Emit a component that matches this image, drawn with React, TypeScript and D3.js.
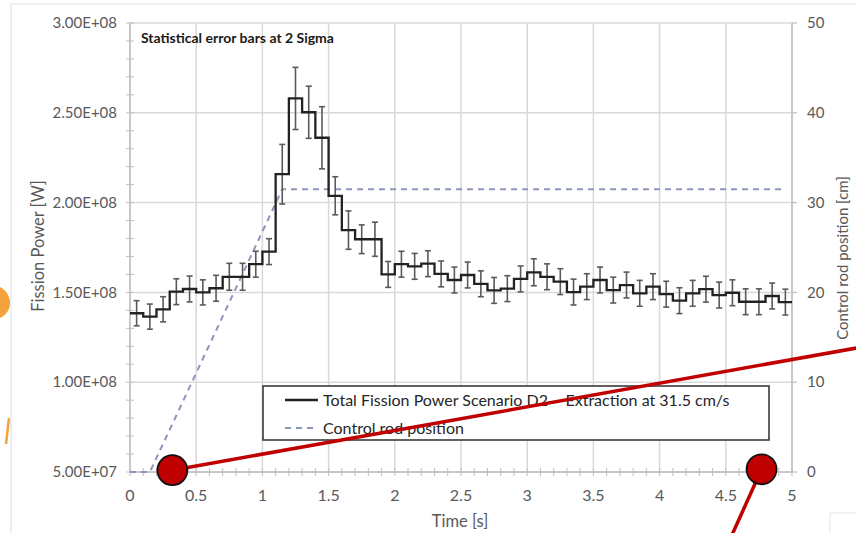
import React from 'react';
import * as d3 from 'd3';

// bin start times [s]
const binTime = [
  0, 0.1, 0.2, 0.3, 0.4, 0.5, 0.6, 0.7, 0.8, 0.9,
  1.0, 1.1, 1.2, 1.3, 1.4, 1.5, 1.6, 1.7, 1.8, 1.9,
  2.0, 2.1, 2.2, 2.3, 2.4, 2.5, 2.6, 2.7, 2.8, 2.9,
  3.0, 3.1, 3.2, 3.3, 3.4, 3.5, 3.6, 3.7, 3.8, 3.9,
  4.0, 4.1, 4.2, 4.3, 4.4, 4.5, 4.6, 4.7, 4.8, 4.9,
];
const binWidth = 0.1;

// total fission power [1e8 W]
const power = [
  1.384, 1.365, 1.406, 1.504, 1.519, 1.5, 1.523, 1.587, 1.587, 1.657,
  1.727, 2.158, 2.58, 2.503, 2.361, 2.038, 1.847, 1.796, 1.796, 1.6,
  1.657, 1.645, 1.66, 1.603, 1.569, 1.597, 1.548, 1.511, 1.521, 1.575,
  1.612, 1.587, 1.56, 1.502, 1.532, 1.569, 1.513, 1.541, 1.495, 1.532,
  1.49, 1.454, 1.495, 1.518, 1.485, 1.498, 1.448, 1.448, 1.48, 1.446,
];

// 2 sigma statistical error [1e8 W]
const powerErr = [
  0.07, 0.07, 0.07, 0.072, 0.072, 0.07, 0.072, 0.075, 0.075, 0.072,
  0.072, 0.166, 0.173, 0.145, 0.173, 0.106, 0.107, 0.08, 0.095, 0.072,
  0.072, 0.072, 0.072, 0.072, 0.072, 0.072, 0.072, 0.072, 0.072, 0.072,
  0.075, 0.072, 0.072, 0.072, 0.072, 0.072, 0.072, 0.072, 0.072, 0.072,
  0.072, 0.072, 0.072, 0.072, 0.072, 0.072, 0.072, 0.072, 0.072, 0.072,
];

// control rod position [cm]
const rodTime = [0, 0.15, 1.15, 4.92];
const rodPos = [0, 0, 31.5, 31.5];

const leftTicks = [5e7, 1e8, 1.5e8, 2e8, 2.5e8, 3e8];
const leftTickLabels = ['5.00E+07', '1.00E+08', '1.50E+08', '2.00E+08', '2.50E+08', '3.00E+08'];
const rightTicks = [0, 10, 20, 30, 40, 50];
const xTicks = [0, 0.5, 1, 1.5, 2, 2.5, 3, 3.5, 4, 4.5, 5];
const xTickLabels = ['0', '0.5', '1', '1.5', '2', '2.5', '3', '3.5', '4', '4.5', '5'];

const W = 856;
const H = 533;
const FONT = "Lato, 'Open Sans', sans-serif";
const GRID = '#d9d9d9';
const AXIS = '#bfbfbf';
const LABEL = '#595959';
const RED = '#c00000';

export default function App() {
  const x = d3.scaleLinear().domain([0, 5]).range([130, 792]);
  const y = d3.scaleLinear().domain([5e7, 3e8]).range([472, 23]);
  const yR = d3.scaleLinear().domain([0, 50]).range([472, 23]);

  const stepPts: [number, number][] = binTime.map((t, i) => [t, power[i] * 1e8]);
  stepPts.push([binTime[binTime.length - 1] + binWidth, power[power.length - 1] * 1e8]);
  const stepLine = d3
    .line<[number, number]>()
    .x((d) => x(d[0]))
    .y((d) => y(d[1]))
    .curve(d3.curveStepAfter);

  const rodLine = d3
    .line<number>()
    .x((_, i) => x(rodTime[i]))
    .y((d) => yR(d));

  const minorY = d3.range(5e7, 3e8 + 1, 1e7);
  const minorX = d3.range(0, 51).map((k) => k / 10);

  // annotation anchors (in data coordinates)
  const dot1 = [x(0.32), yR(0.2)];
  const dot2 = [x(4.77), yR(0.3)];
  const lineEnd1 = [x(5.485), yR(13.8)];
  const lineEnd2 = [x(4.55), yR(-6.9)];

  return (
    <svg
      width={W}
      height={H}
      style={{ position: 'absolute', left: 0, top: 0, background: '#fff' }}
      fontFamily={FONT}
    >
      {/* slide decoration */}
      <path d="M0,287 C6,290 10,296 10,303 C10,310 6,315 0,318 Z" fill="#f4a23c" />
      <path d="M9,418 L6,444" stroke="#f4a23c" strokeWidth={2.5} fill="none" />
      <path d="M11,533 L11,4 L856,4" stroke="#e3e3e3" strokeWidth={1.2} fill="none" />
      <path d="M856,513 L830,513 L830,533" stroke="#e3e3e3" strokeWidth={1} fill="none" />

      {/* gridlines */}
      {leftTicks.map((v) => (
        <line key={'gy' + v} x1={130} x2={792} y1={y(v)} y2={y(v)} stroke={GRID} strokeWidth={1.5} />
      ))}
      {xTicks.map((v) => (
        <line key={'gx' + v} x1={x(v)} x2={x(v)} y1={23} y2={472} stroke={GRID} strokeWidth={1.5} />
      ))}

      {/* axes */}
      <line x1={130} x2={130} y1={23} y2={472} stroke={AXIS} strokeWidth={1.5} />
      <line x1={792} x2={792} y1={23} y2={472} stroke={AXIS} strokeWidth={1.5} />
      <line x1={130} x2={792} y1={472} y2={472} stroke={AXIS} strokeWidth={1.5} />
      {minorY.map((v) => (
        <line key={'my' + v} x1={126} x2={134} y1={y(v)} y2={y(v)} stroke={AXIS} strokeWidth={1} />
      ))}
      {minorX.map((v) => (
        <line key={'mx' + v} x1={x(v)} x2={x(v)} y1={468} y2={476} stroke={AXIS} strokeWidth={1} />
      ))}
      {rightTicks.map((v) => (
        <line key={'ry' + v} x1={792} x2={797} y1={yR(v)} y2={yR(v)} stroke={AXIS} strokeWidth={1.2} />
      ))}

      {/* tick labels */}
      {leftTicks.map((v, i) => (
        <text key={'ly' + v} x={117} y={y(v)} dy="0.35em" textAnchor="end" fontSize={15} fill={LABEL}>
          {leftTickLabels[i]}
        </text>
      ))}
      {rightTicks.map((v) => (
        <text key={'lr' + v} x={807} y={yR(v)} dy="0.35em" fontSize={15} fill={LABEL}>
          {v}
        </text>
      ))}
      {xTicks.map((v, i) => (
        <text key={'lx' + v} x={x(v)} y={495} dy="0.35em" textAnchor="middle" fontSize={16} fill={LABEL}>
          {xTickLabels[i]}
        </text>
      ))}

      {/* axis titles */}
      <text transform="translate(38,246) rotate(-90)" textAnchor="middle" dy="0.35em" fontSize={16.5} fill={LABEL}>
        Fission Power [W]
      </text>
      <text transform="translate(843,258) rotate(-90)" textAnchor="middle" dy="0.35em" fontSize={15} fill={LABEL}>
        Control rod position [cm]
      </text>
      <text x={460} y={521} dy="0.35em" textAnchor="middle" fontSize={16.5} fill={LABEL}>
        Time [s]
      </text>

      <text x={141} y={38} dy="0.35em" fontSize={14} fontWeight="bold" fill="#1a1a1a">
        Statistical error bars at 2 Sigma
      </text>

      {/* control rod position */}
      <path
        d={rodLine(rodPos) ?? ''}
        fill="none"
        stroke="#8c96bd"
        strokeWidth={2}
        strokeDasharray="6,5"
      />

      {/* error bars */}
      {binTime.map((t, i) => {
        const cx = x(t + binWidth / 2);
        const top = y((power[i] + powerErr[i]) * 1e8);
        const bot = y((power[i] - powerErr[i]) * 1e8);
        return (
          <g key={'e' + i} stroke="#5a5a5a" strokeWidth={1.6}>
            <line x1={cx} x2={cx} y1={top} y2={bot} />
            <line x1={cx - 3} x2={cx + 3} y1={top} y2={top} />
            <line x1={cx - 3} x2={cx + 3} y1={bot} y2={bot} />
          </g>
        );
      })}

      {/* fission power step line */}
      <path d={stepLine(stepPts) ?? ''} fill="none" stroke="#222" strokeWidth={2.3} />

      {/* legend */}
      <rect x={263} y={386} width={506} height={54} fill="#fff" stroke="#3a3a3a" strokeWidth={1.6} />
      <line x1={285} x2={318} y1={400} y2={400} stroke="#222" strokeWidth={2.3} />
      <text x={323} y={400} dy="0.35em" fontSize={16} fill="#262626">
        Total Fission Power Scenario D2 – Extraction at 31.5 cm/s
      </text>
      <line x1={285} x2={318} y1={428} y2={428} stroke="#8c96bd" strokeWidth={2} strokeDasharray="6,5" />
      <text x={323} y={428} dy="0.35em" fontSize={16} fill="#262626">
        Control rod position
      </text>

      {/* red annotation */}
      <line x1={dot1[0]} y1={dot1[1]} x2={lineEnd1[0]} y2={lineEnd1[1]} stroke={RED} strokeWidth={3.5} />
      <line x1={dot2[0]} y1={dot2[1]} x2={lineEnd2[0]} y2={lineEnd2[1]} stroke={RED} strokeWidth={3.5} />
      <circle cx={dot1[0]} cy={dot1[1]} r={15} fill={RED} stroke="#111" strokeWidth={1.8} />
      <circle cx={dot2[0]} cy={dot2[1]} r={15} fill={RED} stroke="#111" strokeWidth={1.8} />
    </svg>
  );
}
